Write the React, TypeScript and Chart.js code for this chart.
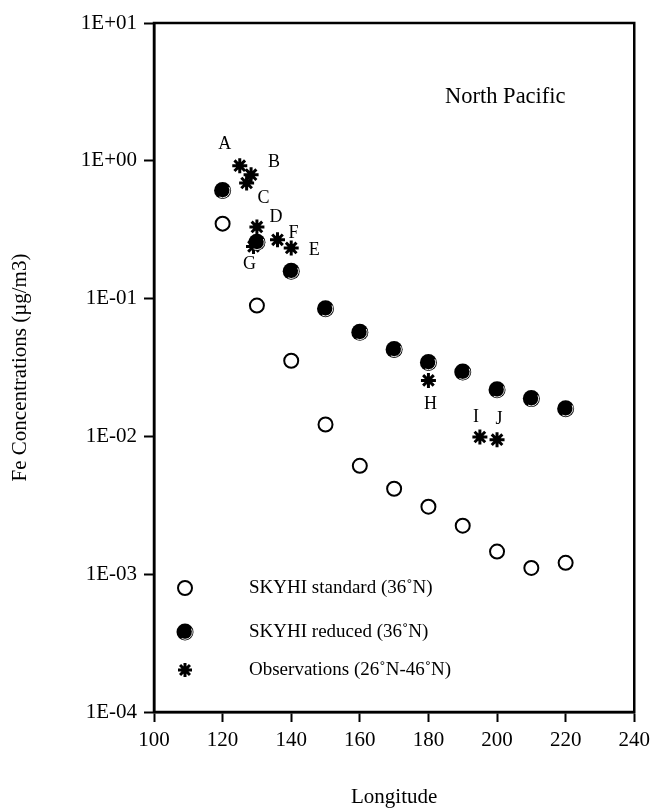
import { useEffect, useRef } from 'react';
import { Chart, registerables } from 'chart.js';

Chart.register(...registerables);

// ---- data ----
const longitudes = [120, 130, 140, 150, 160, 170, 180, 190, 200, 210, 220];
const skyhiStandard = [0.35, 0.089, 0.0354, 0.0122, 0.00612, 0.00417, 0.00309, 0.00225, 0.00146, 0.00111, 0.00121];
const skyhiReduced = [0.609, 0.256, 0.158, 0.0845, 0.0569, 0.0428, 0.0344, 0.0293, 0.0218, 0.0188, 0.0159];
const obsLabels = ['A', 'B', 'C', 'D', 'E', 'F', 'G', 'H', 'I', 'J'];
const obsLongitudes = [125, 128.3, 127, 130, 140, 136, 129, 180, 195, 200];
const obsValues = [0.921, 0.793, 0.69, 0.331, 0.233, 0.267, 0.239, 0.0255, 0.0099, 0.00946];
const yTickValues = [1e-4, 1e-3, 1e-2, 1e-1, 1, 10];
const seriesNames = ['SKYHI standard (36˚N)', 'SKYHI reduced (36˚N)', 'Observations (26˚N-46˚N)'];
const regionTitle = 'North Pacific';
const xTitle = 'Longitude';
const yTitle = 'Fe Concentrations (µg/m3)';

// ---- styles / placement (not data) ----
const FONT = 'Liberation Serif';
const obsLabelOffsets = [[-15, -21], [23, -12], [17, 15], [19, -10], [23, 2], [16, -7], [-4, 18], [2, 24], [-4, -20], [2, -20]];
const legendRows = [588, 632, 670];

function fmtExp(v: number) {
  const e = Math.round(Math.log10(v));
  const s = e >= 0 ? '+' : '-';
  const a = Math.abs(e);
  return '1E' + s + (a < 10 ? '0' + a : String(a));
}

function drawStar(ctx: CanvasRenderingContext2D, x: number, y: number, r: number) {
  ctx.beginPath();
  ctx.moveTo(x - r, y); ctx.lineTo(x + r, y);
  ctx.moveTo(x, y - r); ctx.lineTo(x, y + r);
  const d = r * Math.SQRT1_2;
  ctx.moveTo(x - d, y - d); ctx.lineTo(x + d, y + d);
  ctx.moveTo(x - d, y + d); ctx.lineTo(x + d, y - d);
  ctx.stroke();
}

const decorPlugin = {
  id: 'decor',
  afterDatasetsDraw(chart: any) {
    const ctx = chart.ctx as CanvasRenderingContext2D;
    const { left, right, top, bottom } = chart.chartArea;
    ctx.save();
    // frame
    ctx.strokeStyle = '#000';
    ctx.lineWidth = 2.5;
    ctx.strokeRect(left, top, right - left, bottom - top);

    // highlight on filled circles
    const m1 = chart.getDatasetMeta(1);
    ctx.strokeStyle = 'rgba(255,255,255,0.9)';
    ctx.lineWidth = 1;
    m1.data.forEach((p: any) => {
      ctx.beginPath();
      ctx.arc(p.x, p.y, 7.3, -0.15 * Math.PI, 0.65 * Math.PI);
      ctx.stroke();
    });

    // observation letters
    const m2 = chart.getDatasetMeta(2);
    ctx.fillStyle = '#000';
    ctx.font = `18px "${FONT}"`;
    ctx.textAlign = 'center';
    ctx.textBaseline = 'middle';
    m2.data.forEach((p: any, i: number) => {
      const [dx, dy] = obsLabelOffsets[i];
      ctx.fillText(obsLabels[i], p.x + dx, p.y + dy);
    });

    // region title
    ctx.font = `22.5px "${FONT}"`;
    ctx.textAlign = 'left';
    ctx.textBaseline = 'alphabetic';
    ctx.fillText(regionTitle, left + 291, top + 80);

    // legend
    const sx = left + 31;
    const tx = left + 95;
    ctx.font = `19px "${FONT}"`;
    ctx.textBaseline = 'middle';
    legendRows.forEach((y, i) => {
      ctx.fillStyle = '#000';
      ctx.fillText(seriesNames[i], tx, y);
      if (i === 0) {
        ctx.beginPath();
        ctx.arc(sx, y, 7, 0, Math.PI * 2);
        ctx.fillStyle = '#fff';
        ctx.fill();
        ctx.strokeStyle = '#000';
        ctx.lineWidth = 2;
        ctx.stroke();
      } else if (i === 1) {
        ctx.beginPath();
        ctx.arc(sx, y, 8.5, 0, Math.PI * 2);
        ctx.fillStyle = '#000';
        ctx.fill();
        ctx.strokeStyle = 'rgba(255,255,255,0.9)';
        ctx.lineWidth = 1;
        ctx.beginPath();
        ctx.arc(sx, y, 7.3, -0.15 * Math.PI, 0.65 * Math.PI);
        ctx.stroke();
      } else {
        ctx.strokeStyle = '#000';
        ctx.lineWidth = 3;
        drawStar(ctx, sx, y, 7);
      }
    });
    ctx.restore();
  },
};

export default function App() {
  const ref = useRef<HTMLCanvasElement>(null);
  useEffect(() => {
    if (!ref.current) return;
    Chart.defaults.font.family = FONT;
    Chart.defaults.color = '#000';
    const tickFont = { family: FONT, size: 21 };
    const chart = new Chart(ref.current, {
      type: 'scatter',
      data: {
        datasets: [
          {
            label: seriesNames[0],
            data: longitudes.map((x, i) => ({ x, y: skyhiStandard[i] })),
            pointStyle: 'circle',
            pointRadius: 7,
            pointBackgroundColor: '#fff',
            pointBorderColor: '#000',
            pointBorderWidth: 2,
          },
          {
            label: seriesNames[1],
            data: longitudes.map((x, i) => ({ x, y: skyhiReduced[i] })),
            pointStyle: 'circle',
            pointRadius: 8.5,
            pointBackgroundColor: '#000',
            pointBorderColor: '#000',
            pointBorderWidth: 0,
          },
          {
            label: seriesNames[2],
            data: obsLongitudes.map((x, i) => ({ x, y: obsValues[i] })),
            pointStyle: 'star',
            pointRadius: 7.5,
            pointBackgroundColor: '#000',
            pointBorderColor: '#000',
            pointBorderWidth: 3,
          },
        ],
      },
      options: {
        animation: false,
        responsive: true,
        maintainAspectRatio: false,
        events: [],
        layout: { padding: { top: 23, right: 19, left: 0, bottom: 0 } },
        plugins: {
          legend: { display: false },
          tooltip: { enabled: false },
        },
        scales: {
          x: {
            type: 'linear',
            min: 100,
            max: 240,
            afterFit: (s: any) => { s.height = 96; },
            ticks: { stepSize: 20, font: tickFont, color: '#000', padding: 6, maxRotation: 0 },
            grid: { drawOnChartArea: false, drawTicks: true, tickLength: 10, tickWidth: 2, color: '#000' },
            border: { display: true, color: '#000', width: 2.5 },
            title: { display: true, text: xTitle, font: { family: FONT, size: 21, lineHeight: 1 }, color: '#000', padding: { top: 0, bottom: 0 } },
          },
          y: {
            type: 'logarithmic',
            min: 1e-4,
            max: 10,
            afterFit: (s: any) => { s.width = 154; },
            afterBuildTicks: (s: any) => { s.ticks = yTickValues.map((v) => ({ value: v, major: true })); },
            ticks: { font: tickFont, color: '#000', padding: 7, callback: (v: any) => fmtExp(Number(v)) },
            grid: { drawOnChartArea: false, drawTicks: true, tickLength: 10, tickWidth: 2, color: '#000' },
            border: { display: true, color: '#000', width: 2.5 },
            title: { display: true, text: yTitle, font: { family: FONT, size: 21, lineHeight: 1 }, color: '#000', padding: { top: 10, bottom: 0 } },
          },
        },
      },
      plugins: [decorPlugin],
    });
    return () => chart.destroy();
  }, []);
  return (
    <div style={{ position: 'absolute', left: 0, top: 0, width: 656, height: 808, background: '#fff' }}>
      <canvas ref={ref} />
    </div>
  );
}
